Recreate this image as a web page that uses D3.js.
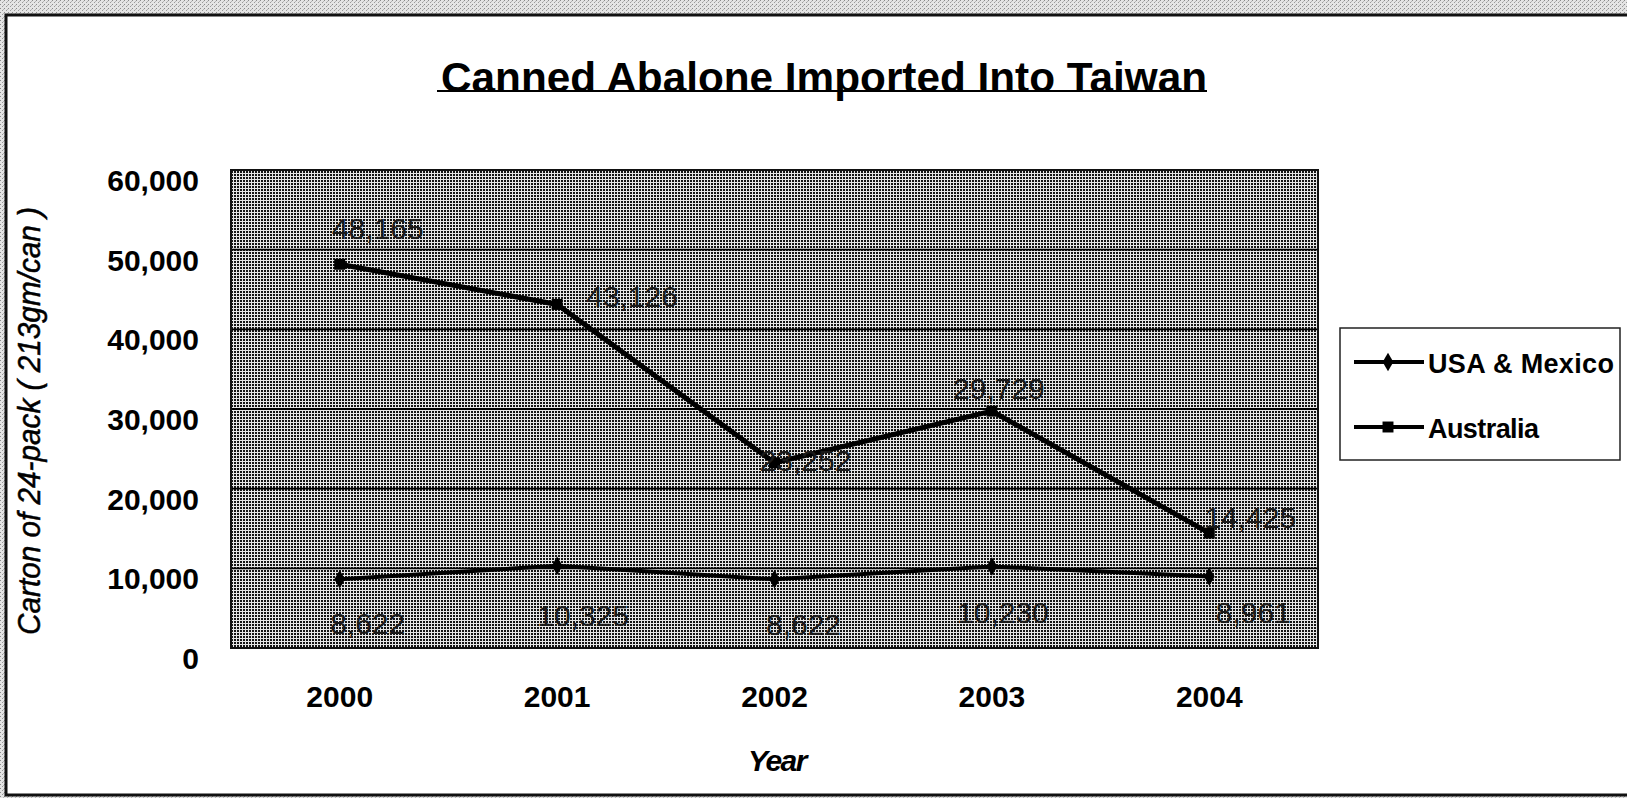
<!DOCTYPE html>
<html>
<head>
<meta charset="utf-8">
<script src="https://cdn.jsdelivr.net/npm/d3@7"></script>
<style>
  html, body { margin: 0; padding: 0; background: #fff; }
  svg { display: block; }
  text { font-family: "Liberation Sans", Arial, sans-serif; }
</style>
</head>
<body>
<svg id="chart" width="1627" height="798"></svg>
<script>
// Chart data
const years = ["2000", "2001", "2002", "2003", "2004"];
const usaMexico = [8622, 10325, 8622, 10230, 8961];
const australia = [48165, 43126, 23252, 29729, 14425];
const yTicks = [0, 10000, 20000, 30000, 40000, 50000, 60000];
const seriesNames = ["USA & Mexico", "Australia"];

// Label placement nudges (pixels) for the value labels of each series
const usaLabelNudge = [[28, 44], [26, 50], [29, 45], [11, 46], [44, 36]];
const ausLabelNudge = [[38, -36], [75, -8], [31, -2], [7, -23], [41, -16]];

const W = 1627, H = 798;
const plot = { left: 231, right: 1318, top: 170, bottom: 648 };

const svg = d3.select("#chart");
const defs = svg.append("defs");

// Grainy page background outside the chart frame
const pg = defs.append("pattern").attr("id", "paper")
  .attr("width", 4).attr("height", 4).attr("patternUnits", "userSpaceOnUse");
pg.append("rect").attr("width", 4).attr("height", 4).attr("fill", "#e4e4e4");
pg.append("rect").attr("x", 0).attr("y", 0).attr("width", 1).attr("height", 1).attr("fill", "#8a8a8a");
pg.append("rect").attr("x", 2).attr("y", 2).attr("width", 1).attr("height", 1).attr("fill", "#9a9a9a");
pg.append("rect").attr("x", 3).attr("y", 1).attr("width", 1).attr("height", 1).attr("fill", "#b5b5b5");

// Halftone fill of the plot area
const hp = defs.append("pattern").attr("id", "halftone")
  .attr("width", 3).attr("height", 3).attr("patternUnits", "userSpaceOnUse");
hp.append("rect").attr("width", 3).attr("height", 3).attr("fill", "#e6e6e6");
hp.append("rect").attr("x", 0).attr("y", 0).attr("width", 2).attr("height", 2).attr("fill", "#141414");

svg.append("rect").attr("width", W).attr("height", H).attr("fill", "url(#paper)");

// Chart frame
svg.append("rect").attr("x", 6).attr("y", 15).attr("width", W - 6).attr("height", 780)
  .attr("fill", "#fff");
svg.append("path")
  .attr("d", `M${W},15 H6 V795 H${W}`)
  .attr("fill", "none").attr("stroke", "#111").attr("stroke-width", 3);

// Scales
const x = d3.scaleBand().domain(years).range([plot.left, plot.right]);
const cx = d => x(d) + x.bandwidth() / 2;
const y = d3.scaleLinear().domain([0, 60000]).range([plot.bottom, plot.top]);

// Plot area
svg.append("rect")
  .attr("x", plot.left).attr("y", plot.top)
  .attr("width", plot.right - plot.left).attr("height", plot.bottom - plot.top)
  .attr("fill", "url(#halftone)");

// Gridlines
svg.append("g").selectAll("line").data(yTicks.filter(t => t > 0 && t < 60000)).join("line")
  .attr("x1", plot.left).attr("x2", plot.right)
  .attr("y1", d => y(d)).attr("y2", d => y(d))
  .attr("stroke", "#000").attr("stroke-width", 1.8);

svg.append("rect")
  .attr("x", plot.left).attr("y", plot.top)
  .attr("width", plot.right - plot.left).attr("height", plot.bottom - plot.top)
  .attr("fill", "none").attr("stroke", "#111").attr("stroke-width", 2);

// Y axis labels
const yAxis = svg.append("g")
  .attr("transform", `translate(${plot.left},0)`)
  .call(d3.axisLeft(y).tickValues(yTicks).tickFormat(d3.format(",")).tickSize(0).tickPadding(32));
yAxis.select(".domain").remove();
yAxis.selectAll("text")
  .attr("dy", "0.32em")
  .attr("transform", "translate(0,11)")
  .attr("font-size", 30).attr("font-weight", "bold").attr("fill", "#000")
  .attr("font-family", "'Liberation Sans', Arial, sans-serif");

// X axis labels
const xAxis = svg.append("g")
  .attr("transform", `translate(0,${plot.bottom})`)
  .call(d3.axisBottom(x).tickSize(0).tickPadding(38));
xAxis.select(".domain").remove();
xAxis.selectAll("text")
  .attr("font-size", 30).attr("font-weight", "bold").attr("fill", "#000")
  .attr("font-family", "'Liberation Sans', Arial, sans-serif");

// Lines
const line = d3.line().x((d, i) => cx(years[i])).y(d => y(d));
svg.append("path").datum(usaMexico).attr("d", line)
  .attr("fill", "none").attr("stroke", "#000").attr("stroke-width", 4);
svg.append("path").datum(australia).attr("d", line)
  .attr("fill", "none").attr("stroke", "#000").attr("stroke-width", 5);

// Markers
const diamond = d3.symbol().type(d3.symbolDiamond).size(100);
const square = d3.symbol().type(d3.symbolSquare).size(120);
svg.append("g").selectAll("path").data(usaMexico).join("path")
  .attr("transform", (d, i) => `translate(${cx(years[i])},${y(d)})`)
  .attr("d", diamond).attr("fill", "#000");
svg.append("g").selectAll("path").data(australia).join("path")
  .attr("transform", (d, i) => `translate(${cx(years[i])},${y(d)})`)
  .attr("d", square).attr("fill", "#000");

// Value labels
const fmt = d3.format(",");
function valueLabels(values, nudge) {
  svg.append("g").selectAll("text").data(values).join("text")
    .attr("x", (d, i) => cx(years[i]) + nudge[i][0])
    .attr("y", (d, i) => y(d) + nudge[i][1])
    .attr("dy", "0.35em")
    .attr("text-anchor", "middle")
    .attr("font-size", 30).attr("fill", "#1a1a1a")
    .text(d => fmt(d));
}
valueLabels(australia, ausLabelNudge);
valueLabels(usaMexico, usaLabelNudge);

// Title with underline
svg.append("text")
  .attr("x", 441).attr("y", 92)
  .attr("font-size", 42).attr("font-weight", "bold").attr("fill", "#000")
  .attr("textLength", 766).attr("lengthAdjust", "spacingAndGlyphs")
  .text("Canned Abalone Imported Into Taiwan");
svg.append("line")
  .attr("x1", 437).attr("x2", 1207).attr("y1", 91).attr("y2", 91)
  .attr("stroke", "#000").attr("stroke-width", 2);

// Axis titles
svg.append("text")
  .attr("transform", "translate(40,421) rotate(-90)")
  .attr("text-anchor", "middle")
  .attr("font-size", 31).attr("font-style", "italic").attr("fill", "#000")
  .attr("stroke", "#000").attr("stroke-width", 0.5)
  .attr("textLength", 428).attr("lengthAdjust", "spacingAndGlyphs")
  .text("Carton of 24-pack ( 213gm/can )");

svg.append("text")
  .attr("x", 777).attr("y", 771)
  .attr("text-anchor", "middle")
  .attr("font-size", 30).attr("font-weight", "bold").attr("font-style", "italic")
  .attr("letter-spacing", -1.5).attr("fill", "#000")
  .text("Year");

// Legend
const lg = svg.append("g");
lg.append("rect").attr("x", 1340).attr("y", 328).attr("width", 280).attr("height", 132)
  .attr("fill", "#fff").attr("stroke", "#222").attr("stroke-width", 1.5);
const legendRows = [
  { name: seriesNames[0], y: 362, sym: diamond },
  { name: seriesNames[1], y: 427, sym: square }
];
legendRows.forEach(r => {
  lg.append("line").attr("x1", 1354).attr("x2", 1424).attr("y1", r.y).attr("y2", r.y)
    .attr("stroke", "#000").attr("stroke-width", 4);
  lg.append("path").attr("transform", `translate(1388,${r.y})`).attr("d", r.sym).attr("fill", "#000");
});
lg.append("text").attr("x", 1428).attr("y", 373)
  .attr("font-size", 27).attr("font-weight", "bold").attr("fill", "#000")
  .attr("textLength", 186).attr("lengthAdjust", "spacing")
  .text(seriesNames[0]);
lg.append("text").attr("x", 1428).attr("y", 438)
  .attr("font-size", 27).attr("font-weight", "bold").attr("fill", "#000")
  .attr("textLength", 111).attr("lengthAdjust", "spacing")
  .text(seriesNames[1]);
</script>
</body>
</html>
